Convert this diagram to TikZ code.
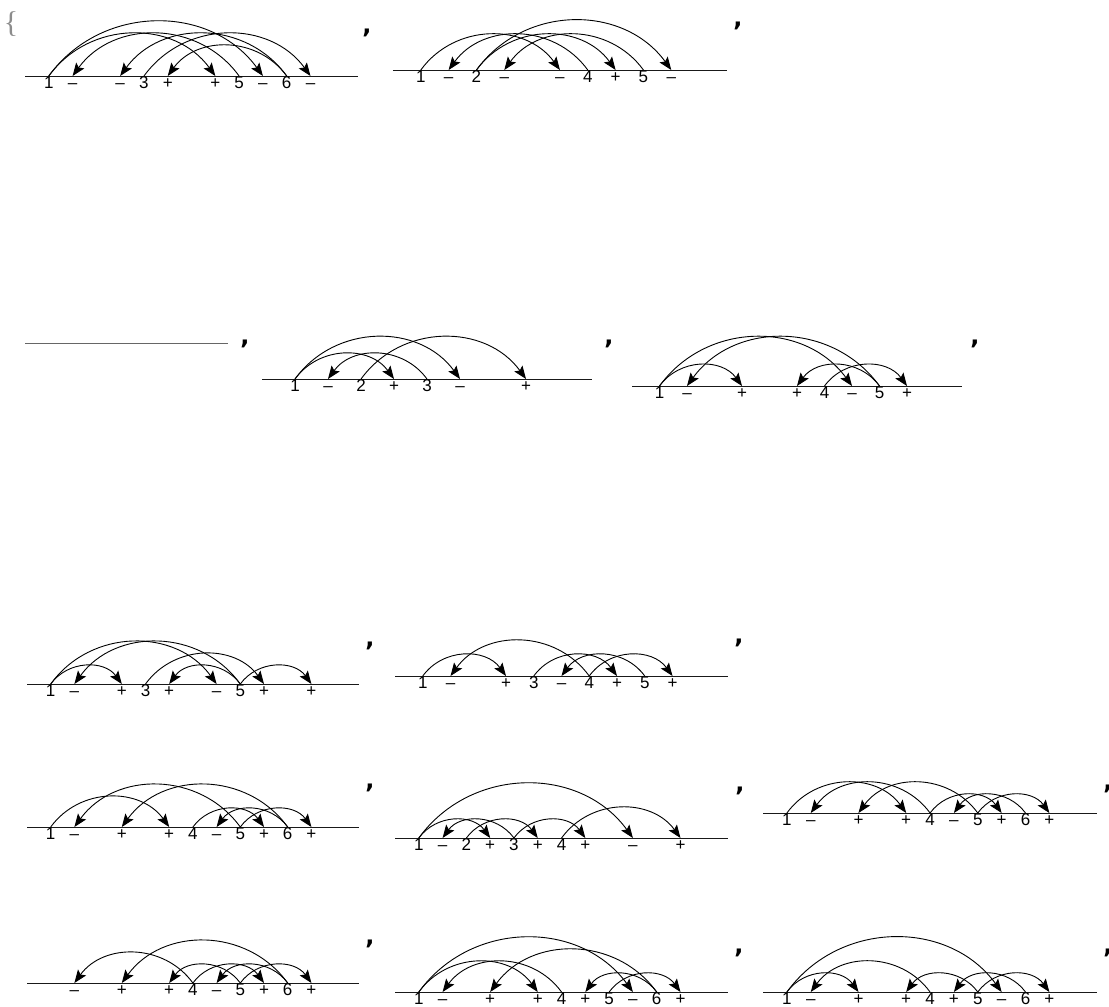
\documentclass[tikz,border=0pt]{standalone}
\usepackage{fontspec}
\setmainfont{Liberation Sans}
\newfontfamily\bracefont{Liberation Serif}
\newfontfamily\commafont{DejaVu Sans}
\usetikzlibrary{arrows.meta}
\tikzset{
  axisline/.style={line width=1pt, draw=black!90},
  slot/.style={anchor=north, inner sep=0pt, text height=12.6pt, text depth=0pt, font=\fontsize{17}{19}\selectfont},
  chordr/.style={-{Stealth[length=13pt,width=10pt,inset=2.5pt]}, line width=0.9pt, bend left=54, looseness=1.07},
  chordl/.style={-{Stealth[length=13pt,width=10pt,inset=2.5pt]}, line width=0.9pt, bend right=54, looseness=1.07},
  listcomma/.style={inner sep=0pt, font=\commafont\bfseries\fontsize{24}{26}\selectfont},
  listbrace/.style={inner sep=0pt, text=black!45, font=\bracefont\fontsize{30}{32}\selectfont}
}
\begin{document}
\begin{tikzpicture}[x=1pt, y=-1pt]
  \useasboundingbox (0,0) rectangle (1109,1007);

  % list delimiters
  \node[listbrace] (open) at (11,24) {\{};
  \node[listcomma] (ca) at (367,33) {,};
  \node[listcomma] (cb) at (738,26) {,};
  \node[listcomma] (cc) at (245,344) {,};
  \node[listcomma] (cd) at (609,344) {,};
  \node[listcomma] (ce) at (975,344) {,};
  \node[listcomma] (cf) at (370,646) {,};
  \node[listcomma] (cg) at (739,643) {,};
  \node[listcomma] (ch) at (370,788) {,};
  \node[listcomma] (ci) at (740,791) {,};
  \node[listcomma] (cj) at (1108,789) {,};
  \node[listcomma] (ck) at (370,944) {,};
  \node[listcomma] (cl) at (739,953) {,};
  \node[listcomma] (cm) at (1108,953) {,};

  % row 1, left
  \begin{scope}[shift={(48.8,76)}, x=23.79pt]
    \draw[axisline] (-1,0) -- (13,0);
    \node[slot] (a0) at (0,0) {1};
    \node[slot] (a1) at (1,0) {–};
    \node[slot] (a3) at (3,0) {–};
    \node[slot] (a4) at (4,0) {3};
    \node[slot] (a5) at (5,0) {+};
    \node[slot] (a7) at (7,0) {+};
    \node[slot] (a8) at (8,0) {5};
    \node[slot] (a9) at (9,0) {–};
    \node[slot] (a10) at (10,0) {6};
    \node[slot] (a11) at (11,0) {–};
    \draw[chordr] (a0.north) to (a7.north);
    \draw[chordr] (a0.north) to (a9.north);
    \draw[chordr] (a4.north) to (a11.north);
    \draw[chordl] (a8.north) to (a1.north);
    \draw[chordl] (a10.north) to (a3.north);
    \draw[chordl] (a10.north) to (a5.north);
  \end{scope}

  % row 1, right
  \begin{scope}[shift={(420.8,70)}, x=27.83pt]
    \draw[axisline] (-1,0) -- (11,0);
    \node[slot] (b0) at (0,0) {1};
    \node[slot] (b1) at (1,0) {–};
    \node[slot] (b2) at (2,0) {2};
    \node[slot] (b3) at (3,0) {–};
    \node[slot] (b5) at (5,0) {–};
    \node[slot] (b6) at (6,0) {4};
    \node[slot] (b7) at (7,0) {+};
    \node[slot] (b8) at (8,0) {5};
    \node[slot] (b9) at (9,0) {–};
    \draw[chordr] (b0.north) to (b5.north);
    \draw[chordr] (b2.north) to (b7.north);
    \draw[chordr] (b2.north) to (b9.north);
    \draw[chordl] (b6.north) to (b1.north);
    \draw[chordl] (b8.north) to (b3.north);
  \end{scope}

  % row 2, empty diagram
  \draw[axisline, draw=black!60] (25,343) -- (228,343);

  % row 2, middle
  \begin{scope}[shift={(295,379)}, x=33pt]
    \draw[axisline] (-1,0) -- (9,0);
    \node[slot] (d0) at (0,0) {1};
    \node[slot] (d1) at (1,0) {–};
    \node[slot] (d2) at (2,0) {2};
    \node[slot] (d3) at (3,0) {+};
    \node[slot] (d4) at (4,0) {3};
    \node[slot] (d5) at (5,0) {–};
    \node[slot] (d7) at (7,0) {+};
    \draw[chordr] (d0.north) to (d3.north);
    \draw[chordr] (d0.north) to (d5.north);
    \draw[chordr] (d2.north) to (d7.north);
    \draw[chordl] (d4.north) to (d1.north);
  \end{scope}

  % row 2, right
  \begin{scope}[shift={(659.5,386)}, x=27.5pt]
    \draw[axisline] (-1,0) -- (11,0);
    \node[slot] (e0) at (0,0) {1};
    \node[slot] (e1) at (1,0) {–};
    \node[slot] (e3) at (3,0) {+};
    \node[slot] (e5) at (5,0) {+};
    \node[slot] (e6) at (6,0) {4};
    \node[slot] (e7) at (7,0) {–};
    \node[slot] (e8) at (8,0) {5};
    \node[slot] (e9) at (9,0) {+};
    \draw[chordr] (e0.north) to (e3.north);
    \draw[chordr] (e0.north) to (e7.north);
    \draw[chordr] (e6.north) to (e9.north);
    \draw[chordl] (e8.north) to (e1.north);
    \draw[chordl] (e8.north) to (e5.north);
  \end{scope}

  % row 3, left
  \begin{scope}[shift={(50.7,684)}, x=23.7pt]
    \draw[axisline] (-1,0) -- (13,0);
    \node[slot] (f0) at (0,0) {1};
    \node[slot] (f1) at (1,0) {–};
    \node[slot] (f3) at (3,0) {+};
    \node[slot] (f4) at (4,0) {3};
    \node[slot] (f5) at (5,0) {+};
    \node[slot] (f7) at (7,0) {–};
    \node[slot] (f8) at (8,0) {5};
    \node[slot] (f9) at (9,0) {+};
    \node[slot] (f11) at (11,0) {+};
    \draw[chordr] (f0.north) to (f3.north);
    \draw[chordr] (f0.north) to (f7.north);
    \draw[chordr] (f4.north) to (f9.north);
    \draw[chordl] (f8.north) to (f1.north);
    \draw[chordl] (f8.north) to (f5.north);
    \draw[chordr] (f8.north) to (f11.north);
  \end{scope}

  % row 3, right
  \begin{scope}[shift={(422.75,676)}, x=27.75pt]
    \draw[axisline] (-1,0) -- (11,0);
    \node[slot] (g0) at (0,0) {1};
    \node[slot] (g1) at (1,0) {–};
    \node[slot] (g3) at (3,0) {+};
    \node[slot] (g4) at (4,0) {3};
    \node[slot] (g5) at (5,0) {–};
    \node[slot] (g6) at (6,0) {4};
    \node[slot] (g7) at (7,0) {+};
    \node[slot] (g8) at (8,0) {5};
    \node[slot] (g9) at (9,0) {+};
    \draw[chordr] (g0.north) to (g3.north);
    \draw[chordl] (g6.north) to (g1.north);
    \draw[chordr] (g4.north) to (g7.north);
    \draw[chordl] (g8.north) to (g5.north);
    \draw[chordr] (g6.north) to (g9.north);
  \end{scope}

  % row 4, left
  \begin{scope}[shift={(50.7,827)}, x=23.7pt]
    \draw[axisline] (-1,0) -- (13,0);
    \node[slot] (h0) at (0,0) {1};
    \node[slot] (h1) at (1,0) {–};
    \node[slot] (h3) at (3,0) {+};
    \node[slot] (h5) at (5,0) {+};
    \node[slot] (h6) at (6,0) {4};
    \node[slot] (h7) at (7,0) {–};
    \node[slot] (h8) at (8,0) {5};
    \node[slot] (h9) at (9,0) {+};
    \node[slot] (h10) at (10,0) {6};
    \node[slot] (h11) at (11,0) {+};
    \draw[chordr] (h0.north) to (h5.north);
    \draw[chordl] (h8.north) to (h1.north);
    \draw[chordl] (h10.north) to (h3.north);
    \draw[chordl] (h10.north) to (h7.north);
    \draw[chordr] (h6.north) to (h9.north);
    \draw[chordr] (h8.north) to (h11.north);
  \end{scope}

  % row 4, middle
  \begin{scope}[shift={(418.8,838)}, x=23.79pt]
    \draw[axisline] (-1,0) -- (13,0);
    \node[slot] (i0) at (0,0) {1};
    \node[slot] (i1) at (1,0) {–};
    \node[slot] (i2) at (2,0) {2};
    \node[slot] (i3) at (3,0) {+};
    \node[slot] (i4) at (4,0) {3};
    \node[slot] (i5) at (5,0) {+};
    \node[slot] (i6) at (6,0) {4};
    \node[slot] (i7) at (7,0) {+};
    \node[slot] (i9) at (9,0) {–};
    \node[slot] (i11) at (11,0) {+};
    \draw[chordr] (i0.north) to (i3.north);
    \draw[chordr] (i0.north) to (i9.north);
    \draw[chordr] (i2.north) to (i5.north);
    \draw[chordl] (i4.north) to (i1.north);
    \draw[chordr] (i4.north) to (i7.north);
    \draw[chordr] (i6.north) to (i11.north);
  \end{scope}

  % row 4, right
  \begin{scope}[shift={(786.9,813)}, x=23.86pt]
    \draw[axisline] (-1,0) -- (13,0);
    \node[slot] (j0) at (0,0) {1};
    \node[slot] (j1) at (1,0) {–};
    \node[slot] (j3) at (3,0) {+};
    \node[slot] (j5) at (5,0) {+};
    \node[slot] (j6) at (6,0) {4};
    \node[slot] (j7) at (7,0) {–};
    \node[slot] (j8) at (8,0) {5};
    \node[slot] (j9) at (9,0) {+};
    \node[slot] (j10) at (10,0) {6};
    \node[slot] (j11) at (11,0) {+};
    \draw[chordr] (j0.north) to (j5.north);
    \draw[chordl] (j6.north) to (j1.north);
    \draw[chordl] (j8.north) to (j3.north);
    \draw[chordl] (j10.north) to (j7.north);
    \draw[chordr] (j6.north) to (j9.north);
    \draw[chordr] (j8.north) to (j11.north);
  \end{scope}

  % row 5, left
  \begin{scope}[shift={(50.7,983)}, x=23.7pt]
    \draw[axisline] (-1,0) -- (13,0);
    \node[slot] (k1) at (1,0) {–};
    \node[slot] (k3) at (3,0) {+};
    \node[slot] (k5) at (5,0) {+};
    \node[slot] (k6) at (6,0) {4};
    \node[slot] (k7) at (7,0) {–};
    \node[slot] (k8) at (8,0) {5};
    \node[slot] (k9) at (9,0) {+};
    \node[slot] (k10) at (10,0) {6};
    \node[slot] (k11) at (11,0) {+};
    \draw[chordl] (k6.north) to (k1.north);
    \draw[chordl] (k10.north) to (k3.north);
    \draw[chordl] (k8.north) to (k5.north);
    \draw[chordl] (k10.north) to (k7.north);
    \draw[chordr] (k6.north) to (k9.north);
    \draw[chordr] (k8.north) to (k11.north);
  \end{scope}

  % row 5, middle
  \begin{scope}[shift={(418.8,992)}, x=23.79pt]
    \draw[axisline] (-1,0) -- (13,0);
    \node[slot] (l0) at (0,0) {1};
    \node[slot] (l1) at (1,0) {–};
    \node[slot] (l3) at (3,0) {+};
    \node[slot] (l5) at (5,0) {+};
    \node[slot] (l6) at (6,0) {4};
    \node[slot] (l7) at (7,0) {+};
    \node[slot] (l8) at (8,0) {5};
    \node[slot] (l9) at (9,0) {–};
    \node[slot] (l10) at (10,0) {6};
    \node[slot] (l11) at (11,0) {+};
    \draw[chordr] (l0.north) to (l5.north);
    \draw[chordr] (l0.north) to (l9.north);
    \draw[chordl] (l6.north) to (l1.north);
    \draw[chordl] (l10.north) to (l3.north);
    \draw[chordl] (l10.north) to (l7.north);
    \draw[chordr] (l8.north) to (l11.north);
  \end{scope}

  % row 5, right
  \begin{scope}[shift={(786.9,992)}, x=23.86pt]
    \draw[axisline] (-1,0) -- (13,0);
    \node[slot] (m0) at (0,0) {1};
    \node[slot] (m1) at (1,0) {–};
    \node[slot] (m3) at (3,0) {+};
    \node[slot] (m5) at (5,0) {+};
    \node[slot] (m6) at (6,0) {4};
    \node[slot] (m7) at (7,0) {+};
    \node[slot] (m8) at (8,0) {5};
    \node[slot] (m9) at (9,0) {–};
    \node[slot] (m10) at (10,0) {6};
    \node[slot] (m11) at (11,0) {+};
    \draw[chordr] (m0.north) to (m3.north);
    \draw[chordr] (m0.north) to (m9.north);
    \draw[chordl] (m6.north) to (m1.north);
    \draw[chordl] (m8.north) to (m5.north);
    \draw[chordl] (m10.north) to (m7.north);
    \draw[chordr] (m8.north) to (m11.north);
  \end{scope}
\end{tikzpicture}
\end{document}
